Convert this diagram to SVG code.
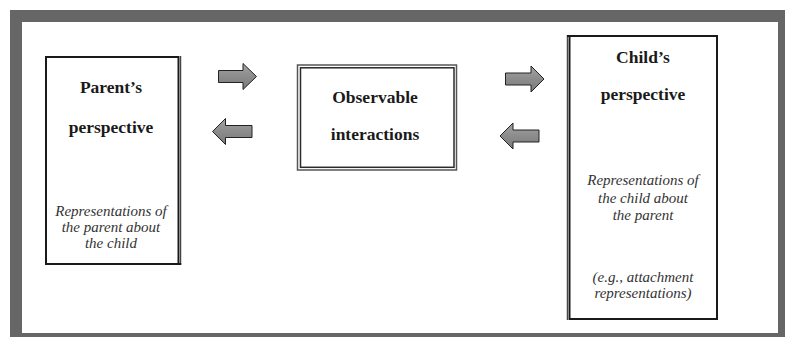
<svg xmlns="http://www.w3.org/2000/svg" width="785" height="337" viewBox="0 0 785 337">
  <defs>
    <linearGradient id="arrowFill" x1="0" y1="0" x2="0" y2="1">
      <stop offset="0" stop-color="#a3a3a3"/>
      <stop offset="0.5" stop-color="#8c8c8c"/>
      <stop offset="1" stop-color="#7a7a7a"/>
    </linearGradient>
  </defs>
  <style>
    .frame { fill: #666666; }
    .sheet { fill: #ffffff; }
    .box { fill: #ffffff; stroke: #1a1a1a; stroke-width: 2; }
    .thin { fill: none; stroke: #1a1a1a; stroke-width: 1; }
    .title { font-family: "Liberation Serif", "Times New Roman", serif; font-weight: bold; font-size: 17.5px; fill: #1a1a1a; text-anchor: middle; }
    .note { font-family: "Liberation Serif", "Times New Roman", serif; font-style: italic; font-size: 15px; fill: #333333; text-anchor: middle; }
    .arrow { fill: url(#arrowFill); stroke: #222222; stroke-width: 1; stroke-linejoin: miter; }
  </style>

  <!-- page frame -->
  <rect class="frame" x="10" y="10" width="775" height="327"/>
  <rect class="sheet" x="22" y="22" width="756" height="311"/>

  <!-- parent node -->
  <g id="parent">
    <rect class="box" x="46" y="57" width="132.5" height="207"/>
    <line class="thin" x1="180.7" y1="56" x2="180.7" y2="265"/>
    <line x1="178" y1="264" x2="181.2" y2="264" stroke="#1a1a1a" stroke-width="2"/>
    <text class="title" x="111" y="93">Parent’s</text>
    <text class="title" x="111" y="133">perspective</text>
    <text class="note" x="111" y="216">Representations of</text>
    <text class="note" x="111" y="232">the parent about</text>
    <text class="note" x="111" y="248">the child</text>
  </g>

  <!-- observable interactions node -->
  <g id="observable">
    <rect x="297.5" y="65" width="159" height="105" fill="#ffffff" stroke="#555555" stroke-width="1.5"/>
    <rect x="300.5" y="67.8" width="153.5" height="99.5" fill="none" stroke="#2a2a2a" stroke-width="1.5"/>
    <text class="title" x="375" y="103">Observable</text>
    <text class="title" x="375" y="140">interactions</text>
  </g>

  <!-- child node -->
  <g id="child">
    <rect class="box" x="569.5" y="36" width="147.5" height="283"/>
    <line class="thin" x1="567.3" y1="35" x2="567.3" y2="320"/>
    <line x1="567" y1="36" x2="570" y2="36" stroke="#1a1a1a" stroke-width="2"/>
    <text class="title" x="643" y="63">Child’s</text>
    <text class="title" x="643" y="100">perspective</text>
    <text class="note" x="643" y="185">Representations of</text>
    <text class="note" x="643" y="203">the child about</text>
    <text class="note" x="643" y="220">the parent</text>
    <text class="note" x="643" y="282">(e.g., attachment</text>
    <text class="note" x="643" y="298">representations)</text>
  </g>

  <!-- connectors: block arrows between the nodes -->
  <g id="connectors">
    <path class="arrow" d="M218.5,70.5 H243 V63.5 L256.5,76.5 L243,89.5 V82.5 H218.5 Z"/>
    <path class="arrow" d="M252,125.5 H225.5 V118.5 L212.5,131.5 L225.5,144.5 V137.5 H252 Z"/>
    <path class="arrow" d="M505.5,73 H531 V66 L544,79 L531,92 V85 H505.5 Z"/>
    <path class="arrow" d="M539,130 H513 V123 L500,136 L513,149 V142 H539 Z"/>
  </g>
</svg>
